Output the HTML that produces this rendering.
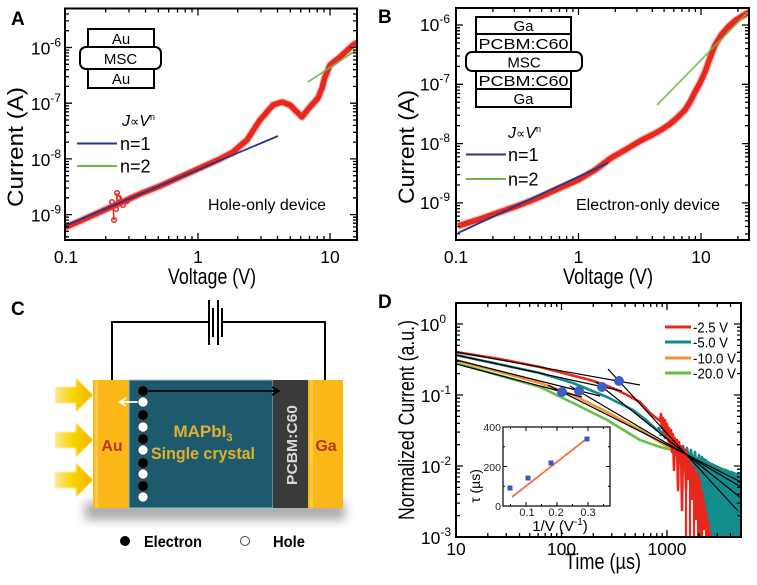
<!DOCTYPE html>
<html><head><meta charset="utf-8"><style>
html,body{margin:0;padding:0;background:#fff}
svg{display:block;font-family:"Liberation Sans",Arial,sans-serif}
</style></head><body>
<svg width="757" height="585" viewBox="0 0 757 585" xmlns="http://www.w3.org/2000/svg">
<defs>
<filter id="blur" x="-20%" y="-50%" width="140%" height="200%"><feGaussianBlur stdDeviation="5"/></filter>
<filter id="blur2" x="-50%" y="-50%" width="200%" height="200%"><feGaussianBlur stdDeviation="1.5"/></filter>
<filter id="blur3" x="-50%" y="-50%" width="200%" height="200%"><feGaussianBlur stdDeviation="0.8"/></filter>
<linearGradient id="arr" x1="0" x2="1" y1="0" y2="0"><stop offset="0" stop-color="#f6c400" stop-opacity="0.4"/><stop offset="0.45" stop-color="#f8d700"/><stop offset="1" stop-color="#f2b100"/></linearGradient>
<clipPath id="clipD"><rect x="456" y="303" width="285" height="234"/></clipPath>
<clipPath id="clipA"><rect x="65" y="8" width="292" height="232"/></clipPath>
<clipPath id="clipB"><rect x="456" y="8" width="293" height="232"/></clipPath>
</defs>

<!-- ============ PANEL A ============ -->
<text x="11" y="25" font-size="19" font-weight="bold">A</text>
<g clip-path="url(#clipA)">
<path d="M66,227 L80,221 L100,212 L120,203 L140,194 L160,186 L180,177 L200,168 L220,159 L233,152 L247,140 L260,120 L273,105 L282,102 L290,105 L302,117 L305,113 L310,107 L318,98 L322,88 L325,77 L330,65 L340,57 L353,45 L358,42" fill="none" stroke="#f08080" stroke-width="8" stroke-linejoin="round" stroke-linecap="round" opacity="0.5"/>
<path d="M66,227 L80,221 L100,212 L120,203 L140,194 L160,186 L180,177 L200,168 L220,159 L233,152 L247,140 L260,120 L273,105 L282,102 L290,105 L302,117 L305,113 L310,107 L318,98 L322,88 L325,77 L330,65 L340,57 L353,45 L358,42" fill="none" stroke="#e8281c" stroke-width="5.5" stroke-linejoin="round" stroke-linecap="round"/>
<path d="M113,205 L114,220 M117,205 L117,193 M121,204 L120,196" stroke="#e8281c" stroke-width="1.5" fill="none"/>
<g fill="none" stroke="#e8281c" stroke-width="1.5">
<circle cx="114" cy="220" r="2.3"/><circle cx="117" cy="193" r="2.3"/><circle cx="112" cy="202" r="2.3"/><circle cx="119" cy="198" r="2.3"/><circle cx="123" cy="205" r="2.3"/><circle cx="127" cy="201" r="2.3"/><circle cx="131" cy="198" r="2.3"/><circle cx="116" cy="209" r="2.3"/>
</g>
<path d="M60,228 L278,136" stroke="#27368c" stroke-width="1.8"/>
<path d="M308,82 L358,49" stroke="#6fb544" stroke-width="1.8" opacity="0.9"/>
</g>
<rect x="65" y="8.5" width="292" height="231.5" fill="none" stroke="#000" stroke-width="2"/>
<path stroke="#000" stroke-width="1.3" fill="none" d="
M198,240v-7M198,8.5v7M330,240v-7M330,8.5v7
M105.7,240v-4M105.7,8.5v4M129,240v-4M129,8.5v4M145.5,240v-4M145.5,8.5v4M158.3,240v-4M158.3,8.5v4M168.7,240v-4M168.7,8.5v4M177.5,240v-4M177.5,8.5v4M185.2,240v-4M185.2,8.5v4M192,240v-4M192,8.5v4
M237.7,240v-4M237.7,8.5v4M261,240v-4M261,8.5v4M277.5,240v-4M277.5,8.5v4M290.3,240v-4M290.3,8.5v4M300.7,240v-4M300.7,8.5v4M309.5,240v-4M309.5,8.5v4M317.2,240v-4M317.2,8.5v4M324,240v-4M324,8.5v4
M65,47.5h7M357,47.5h-7M65,103.2h7M357,103.2h-7M65,158.9h7M357,158.9h-7M65,214.6h7M357,214.6h-7
M65,236.8h4M357,236.8h-4M65,231.4h4M357,231.4h-4M65,227h4M357,227h-4M65,223.2h4M357,223.2h-4M65,220h4M357,220h-4M65,217.2h4M357,217.2h-4
M65,197.8h4M357,197.8h-4M65,188h4M357,188h-4M65,181.1h4M357,181.1h-4M65,175.7h4M357,175.7h-4M65,171.3h4M357,171.3h-4M65,167.5h4M357,167.5h-4M65,164.3h4M357,164.3h-4M65,161.5h4M357,161.5h-4
M65,142.1h4M357,142.1h-4M65,132.3h4M357,132.3h-4M65,125.4h4M357,125.4h-4M65,120h4M357,120h-4M65,115.6h4M357,115.6h-4M65,111.8h4M357,111.8h-4M65,108.6h4M357,108.6h-4M65,105.8h4M357,105.8h-4
M65,86.4h4M357,86.4h-4M65,76.6h4M357,76.6h-4M65,69.7h4M357,69.7h-4M65,64.3h4M357,64.3h-4M65,59.9h4M357,59.9h-4M65,56.1h4M357,56.1h-4M65,52.9h4M357,52.9h-4M65,50.1h4M357,50.1h-4
M65,30.7h4M357,30.7h-4M65,20.9h4M357,20.9h-4M65,14h4M357,14h-4"/>
<g stroke="#000" stroke-width="2" fill="#fff">
<rect x="88" y="29" width="66" height="18"/>
<rect x="88" y="69" width="66" height="19"/>
<rect x="80" y="47" width="81" height="22" rx="6"/>
</g>
<g font-size="15" text-anchor="middle">
<text x="121" y="44">Au</text><text x="120.5" y="64">MSC</text><text x="121" y="84">Au</text>
</g>
<text x="122" y="126" font-size="16"><tspan font-style="italic">J</tspan><tspan font-family="DejaVu Sans" font-size="13">∝</tspan><tspan font-style="italic">V</tspan><tspan dy="-6" font-size="9">n</tspan></text>
<path d="M77,143.5 H117" stroke="#27368c" stroke-width="2"/>
<path d="M77,166 H117" stroke="#6fb544" stroke-width="2"/>
<text x="120" y="150" font-size="18">n=1</text>
<text x="120" y="172.5" font-size="18">n=2</text>
<text x="208" y="210" font-size="15.5" textLength="118" lengthAdjust="spacingAndGlyphs">Hole-only device</text>
<g font-size="17.5" text-anchor="end">
<text x="61" y="54.5">10<tspan dy="-8" font-size="12">-6</tspan></text>
<text x="61" y="110">10<tspan dy="-8" font-size="12">-7</tspan></text>
<text x="61" y="166">10<tspan dy="-8" font-size="12">-8</tspan></text>
<text x="61" y="221.5">10<tspan dy="-8" font-size="12">-9</tspan></text>
</g>
<g font-size="17.5" text-anchor="middle">
<text x="66" y="263">0.1</text><text x="198" y="263">1</text><text x="330" y="263">10</text>
</g>
<text x="212" y="284" font-size="22" text-anchor="middle" textLength="88" lengthAdjust="spacingAndGlyphs">Voltage (V)</text>
<text transform="translate(23,147) rotate(-90)" font-size="22" text-anchor="middle" textLength="120" lengthAdjust="spacingAndGlyphs">Current (A)</text>

<!-- ============ PANEL B ============ -->
<text x="378" y="23" font-size="19" font-weight="bold">B</text>
<g clip-path="url(#clipB)">
<path d="M458,226 L480,219 L500,212 L520,205 L540,197 L560,188 L578,180 L595,170 L611,158 L625,150 L640,141 L652,135 L661,130 L670,124 L678,117 L685,110 L690,102 L695,92 L700,83 L705,72 L710,58 L715,45 L722,34 L728,27 L736,20 L749,12" fill="none" stroke="#f08080" stroke-width="8" stroke-linejoin="round" opacity="0.5"/>
<path d="M458,226 L480,219 L500,212 L520,205 L540,197 L560,188 L578,180 L595,170 L611,158 L625,150 L640,141 L652,135 L661,130 L670,124 L678,117 L685,110 L690,102 L695,92 L700,83 L705,72 L710,58 L715,45 L722,34 L728,27 L736,20 L749,12" fill="none" stroke="#e8281c" stroke-width="5.5" stroke-linejoin="round"/>
<path d="M458,233 L608,163" stroke="#27368c" stroke-width="1.8"/>
<path d="M657,105 L748,12" stroke="#6fb544" stroke-width="1.8" opacity="0.85"/>
</g>
<rect x="456" y="8" width="293" height="232" fill="none" stroke="#000" stroke-width="2"/>
<path stroke="#000" stroke-width="1.3" fill="none" d="
M578.5,240v-7M578.5,8v7M701,240v-7M701,8v7
M492.9,240v-4M492.9,8v4M514.4,240v-4M514.4,8v4M529.8,240v-4M529.8,8v4M541.6,240v-4M541.6,8v4M551.3,240v-4M551.3,8v4M559.5,240v-4M559.5,8v4M566.6,240v-4M566.6,8v4M572.9,240v-4M572.9,8v4
M615.4,240v-4M615.4,8v4M636.9,240v-4M636.9,8v4M652.3,240v-4M652.3,8v4M664.1,240v-4M664.1,8v4M673.8,240v-4M673.8,8v4M682,240v-4M682,8v4M689.1,240v-4M689.1,8v4M695.4,240v-4M695.4,8v4M737.9,240v-4M737.9,8v4
M456,202.9h7M749,202.9h-7M456,143.6h7M749,143.6h-7M456,84.3h7M749,84.3h-7M456,25h7M749,25h-7
M456,233.9h4M749,233.9h-4M456,226.5h4M749,226.5h-4M456,220.8h4M749,220.8h-4M456,216.1h4M749,216.1h-4M456,212.1h4M749,212.1h-4M456,208.7h4M749,208.7h-4M456,205.6h4M749,205.6h-4
M456,185h4M749,185h-4M456,174.6h4M749,174.6h-4M456,167.2h4M749,167.2h-4M456,161.5h4M749,161.5h-4M456,156.8h4M749,156.8h-4M456,152.8h4M749,152.8h-4M456,149.4h4M749,149.4h-4M456,146.3h4M749,146.3h-4
M456,125.7h4M749,125.7h-4M456,115.3h4M749,115.3h-4M456,107.9h4M749,107.9h-4M456,102.2h4M749,102.2h-4M456,97.5h4M749,97.5h-4M456,93.5h4M749,93.5h-4M456,90.1h4M749,90.1h-4M456,87h4M749,87h-4
M456,66.4h4M749,66.4h-4M456,56h4M749,56h-4M456,48.6h4M749,48.6h-4M456,42.9h4M749,42.9h-4M456,38.2h4M749,38.2h-4M456,34.2h4M749,34.2h-4M456,30.8h4M749,30.8h-4M456,27.7h4M749,27.7h-4"/>
<g stroke="#000" stroke-width="2" fill="#fff">
<rect x="476" y="17" width="95" height="17"/>
<rect x="476" y="34" width="95" height="18"/>
<rect x="476" y="71" width="95" height="18"/>
<rect x="476" y="89" width="95" height="18"/>
<rect x="466" y="52" width="116" height="19" rx="6"/>
</g>
<g font-size="15" text-anchor="middle">
<text x="523.5" y="31">Ga</text>
<text x="523.5" y="49" textLength="90" lengthAdjust="spacingAndGlyphs">PCBM:C60</text>
<text x="524" y="67.5">MSC</text>
<text x="523.5" y="86" textLength="90" lengthAdjust="spacingAndGlyphs">PCBM:C60</text>
<text x="523.5" y="104">Ga</text>
</g>
<text x="508" y="138" font-size="16"><tspan font-style="italic">J</tspan><tspan font-family="DejaVu Sans" font-size="13">∝</tspan><tspan font-style="italic">V</tspan><tspan dy="-6" font-size="9">n</tspan></text>
<path d="M466,154.5 H506" stroke="#27368c" stroke-width="2"/>
<path d="M466,179 H506" stroke="#6fb544" stroke-width="2"/>
<text x="508" y="161" font-size="18">n=1</text>
<text x="508" y="185.5" font-size="18">n=2</text>
<text x="576" y="210" font-size="15.5" textLength="144" lengthAdjust="spacingAndGlyphs">Electron-only device</text>
<g font-size="17.5" text-anchor="end">
<text x="450" y="31">10<tspan dy="-8" font-size="12">-6</tspan></text>
<text x="450" y="90.5">10<tspan dy="-8" font-size="12">-7</tspan></text>
<text x="450" y="150">10<tspan dy="-8" font-size="12">-8</tspan></text>
<text x="450" y="209">10<tspan dy="-8" font-size="12">-9</tspan></text>
</g>
<g font-size="17.5" text-anchor="middle">
<text x="456" y="263">0.1</text><text x="578.5" y="263">1</text><text x="701" y="263">10</text>
</g>
<text x="608" y="284" font-size="22" text-anchor="middle" textLength="90" lengthAdjust="spacingAndGlyphs">Voltage (V)</text>
<text transform="translate(414,147) rotate(-90)" font-size="22" text-anchor="middle" textLength="114" lengthAdjust="spacingAndGlyphs">Current (A)</text>

<!-- ============ PANEL C ============ -->
<text x="11" y="315" font-size="19" font-weight="bold">C</text>
<g stroke="#000" stroke-width="2" fill="none">
<path d="M112,381 V322 H209 M222,322 H325 V381"/>
<path d="M209,300 V345 M218,300 V345"/>
<path d="M213,308 V337 M222,308 V337"/>
</g>
<rect x="85" y="502" width="260" height="18" fill="#888" filter="url(#blur)" opacity="0.7"/>
<g filter="url(#blur3)">
<path d="M55,387 H76 V378 L93,395 L76,412 V403 H55 Z" fill="url(#arr)"/>
<path d="M55,432 H76 V423 L93,440 L76,457 V448 H55 Z" fill="url(#arr)"/>
<path d="M55,472 H76 V463 L93,480 L76,497 V488 H55 Z" fill="url(#arr)"/>
</g>
<rect x="93" y="380" width="36" height="128" fill="#fbb617"/>
<rect x="95" y="380" width="3" height="128" fill="#fcd062" opacity="0.7"/>
<rect x="129" y="380" width="144" height="128" fill="#1e5a6d" stroke="#9cc3cf" stroke-width="1"/>
<rect x="273" y="380" width="35" height="128" fill="#3a3a3a"/>
<rect x="308" y="380" width="35" height="128" fill="#fbb617"/>
<rect x="310" y="380" width="3" height="128" fill="#fcd062" opacity="0.7"/>
<text x="112" y="451" font-size="16" font-weight="bold" fill="#b4391e" text-anchor="middle">Au</text>
<text x="326" y="451" font-size="16" font-weight="bold" fill="#b4391e" text-anchor="middle">Ga</text>
<text transform="translate(297,445) rotate(-90)" font-size="14.5" font-weight="bold" fill="#d8d8d8" text-anchor="middle" textLength="80" lengthAdjust="spacingAndGlyphs">PCBM:C60</text>
<text x="203" y="437" font-size="17" font-weight="bold" fill="#e2b12c" text-anchor="middle">MAPbI<tspan dy="4" font-size="11">3</tspan></text>
<text x="203" y="459" font-size="17" font-weight="bold" fill="#e2b12c" text-anchor="middle" textLength="104" lengthAdjust="spacingAndGlyphs">Single crystal</text>
<path d="M143,391 H278" stroke="#cfe4ea" stroke-width="5" opacity="0.6" filter="url(#blur2)"/>
<path d="M143,391 H278 M272,387 L279,391 L272,395" stroke="#000" stroke-width="1.8" fill="none"/>
<path d="M142,402 H121 M126,398 L120,402 L126,406" stroke="#fff" stroke-width="1.8" fill="none"/>
<g stroke="#333" stroke-width="0.6">
<circle cx="143" cy="391" r="5" fill="#000"/>
<circle cx="143" cy="402" r="5" fill="#fff"/>
<circle cx="143" cy="415" r="5" fill="#000"/>
<circle cx="143" cy="427" r="5" fill="#fff"/>
<circle cx="143" cy="439" r="5" fill="#000"/>
<circle cx="143" cy="450" r="5" fill="#fff"/>
<circle cx="143" cy="463" r="5" fill="#000"/>
<circle cx="143" cy="474" r="5" fill="#fff"/>
<circle cx="143" cy="486" r="5" fill="#000"/>
<circle cx="143" cy="497" r="5" fill="#fff"/>
</g>
<circle cx="125" cy="541" r="5" fill="#000"/>
<text x="144" y="547" font-size="15.5" font-weight="bold" textLength="58" lengthAdjust="spacingAndGlyphs">Electron</text>
<circle cx="245" cy="541" r="4.5" fill="#fff" stroke="#444" stroke-width="1"/>
<text x="273" y="547" font-size="15.5" font-weight="bold" textLength="32" lengthAdjust="spacingAndGlyphs">Hole</text>

<!-- ============ PANEL D ============ -->
<text x="378" y="308" font-size="19" font-weight="bold">D</text>
<g clip-path="url(#clipD)" fill="none" stroke-linejoin="round">
<!-- green -->
<path stroke="#62c045" stroke-width="2.6" d="M456,363 L540,387 L573,403 L607,420 L640,440 L660,447 L680,452 L700,460 L720,468 L741,476"/>
<!-- orange -->
<path stroke="#f39134" stroke-width="2.6" d="M456,360 L540,383 L573,395 L607,412 L640,430 L673,450 L700,462 L741,480"/>
<!-- red lower spikes (behind teal) -->
<path stroke="#e8281c" stroke-width="2.2" d="M686,452 L686,537 M688,455 L688,480 M690,457 L690,537 M692,460 L692,500 M694,462 L694,537 M696,465 L696,520 M698,467 L698,537 M700,470 L700,537 M702,472 L702,537 M704,474 L704,530 M706,477 L706,537 M708,480 L708,537 M710,484 L710,537 M712,487 L712,537 M714,482 L714,537 M716,495 L716,537 M718,492 L718,537 M720,500 L720,537 M722,490 L722,537 M725,505 L725,537 M728,500 L728,537 M731,510 L731,537 M734,515 L734,537 M737,505 L737,537 M740,520 L740,537"/>
<!-- teal -->
<path stroke="#128c8c" stroke-width="2.6" d="M456,355 L540,373 L573,383 L607,397 L633,410 L645,419 L657,430 L659,428 L661,435 L663,431 L665,438 L667,433 L669,442 L671,437 L673,445 L675,440 L677,449 L679,443 L681,453 L683,446 L685,456 L687,448 L689,460 L691,450 L693,465 L695,452 L697,472 L699,455 L701,480 L702,457 L703,490 L704,459 L705,500 L706,460 L707,510 L708,462 L709,520 L710,463 L711,530 L712,464 L713,537 L714,465 L715,537 L716,466 L717,537 L718,467 L719,537 L720,468 L721,537 L722,469 L723,537 L724,470 L725,537 L726,470 L727,537 L728,471 L729,537 L730,472 L731,537 L732,472 L733,537 L734,473 L735,537 L736,474 L737,537 L738,474 L739,537 L740,475 L741,537"/>
<!-- red upper -->
<path stroke="#e8281c" stroke-width="2.6" d="M456,352 L500,359 L540,367 L590,380 L605,385 L617,390 L627,395 L640,402 L650,413 L660,421 L661,414 L662,428 L663,418 L664,432 L665,420 L666,436 L667,424 L668,440 L669,428 L670,446 L671,430 L672,452 L673,434 L674,470 L675,438 L676,455 L677,440 L678,490 L679,442 L680,462 L681,446 L682,510 L683,448 L684,470 L685,450 L686,490 L687,452 L688,470"/>
<!-- fits -->
<path stroke="#000" stroke-width="1.2" d="M456,352L640,385M608,369L738,511M456,355L622,391M596,382L741,498M456,360L600,396M570,386L741,487M456,364L582,397M548,385L741,482"/>
<g fill="#3d5fc9" stroke="none">
<circle cx="562" cy="392" r="5"/><circle cx="579" cy="391" r="5"/><circle cx="602" cy="387" r="5"/><circle cx="619" cy="381" r="5"/>
</g>
</g>
<rect x="456" y="303" width="285" height="234" fill="none" stroke="#000" stroke-width="2"/>
<path stroke="#000" stroke-width="1.3" fill="none" d="
M561.5,537v-7M561.5,303v7M667,537v-7M667,303v7
M487.8,537v-4M487.8,303v4M506.3,537v-4M506.3,303v4M519.5,537v-4M519.5,303v4M529.7,537v-4M529.7,303v4M538.1,537v-4M538.1,303v4M545.2,537v-4M545.2,303v4M551.3,537v-4M551.3,303v4M556.7,537v-4M556.7,303v4
M593.3,537v-4M593.3,303v4M611.8,537v-4M611.8,303v4M625,537v-4M625,303v4M635.2,537v-4M635.2,303v4M643.6,537v-4M643.6,303v4M650.7,537v-4M650.7,303v4M656.8,537v-4M656.8,303v4M662.2,537v-4M662.2,303v4
M698.8,537v-4M698.8,303v4M717.3,537v-4M717.3,303v4M730.5,537v-4M730.5,303v4
M456,466h7M741,466h-7M456,395h7M741,395h-7M456,324h7M741,324h-7
M456,515.6h4M741,515.6h-4M456,503.1h4M741,503.1h-4M456,494.3h4M741,494.3h-4M456,487.4h4M741,487.4h-4M456,481.8h4M741,481.8h-4M456,477h4M741,477h-4M456,472.9h4M741,472.9h-4M456,469.2h4M741,469.2h-4
M456,444.6h4M741,444.6h-4M456,432.1h4M741,432.1h-4M456,423.3h4M741,423.3h-4M456,416.4h4M741,416.4h-4M456,410.8h4M741,410.8h-4M456,406h4M741,406h-4M456,401.9h4M741,401.9h-4M456,398.2h4M741,398.2h-4
M456,373.6h4M741,373.6h-4M456,361.1h4M741,361.1h-4M456,352.3h4M741,352.3h-4M456,345.4h4M741,345.4h-4M456,339.8h4M741,339.8h-4M456,335h4M741,335h-4M456,330.9h4M741,330.9h-4M456,327.2h4M741,327.2h-4"/>
<!-- legend -->
<path d="M665,327 H691" stroke="#e8281c" stroke-width="3"/>
<path d="M665,342 H691" stroke="#128c8c" stroke-width="3"/>
<path d="M665,358 H691" stroke="#f39134" stroke-width="3"/>
<path d="M665,373 H691" stroke="#62c045" stroke-width="3"/>
<g font-size="15">
<text x="693" y="332.5" textLength="35" lengthAdjust="spacingAndGlyphs">-2.5 V</text>
<text x="693" y="347.5" textLength="35" lengthAdjust="spacingAndGlyphs">-5.0 V</text>
<text x="693" y="363.5" textLength="43" lengthAdjust="spacingAndGlyphs">-10.0 V</text>
<text x="693" y="378.5" textLength="43" lengthAdjust="spacingAndGlyphs">-20.0 V</text>
</g>
<!-- inset -->
<rect x="503" y="427" width="107" height="79" fill="#fff" stroke="#000" stroke-width="1.2"/>
<path stroke="#000" stroke-width="1" fill="none" d="M526,506v-4M526,427v4M557,506v-4M557,427v4M588,506v-4M588,427v4M510.5,506v-2M510.5,427v2M541.5,506v-2M541.5,427v2M572.5,506v-2M572.5,427v2M603.5,506v-2M603.5,427v2M503,506h4M610,506h-4M503,466.5h4M610,466.5h-4M503,427h4M610,427h-4M503,486.3h2M610,486.3h-2M503,446.8h2M610,446.8h-2"/>
<path d="M512,497 L585,440" stroke="#f07448" stroke-width="1.8"/>
<g fill="#3c58b4">
<rect x="507.5" y="485.5" width="5" height="5"/>
<rect x="525.5" y="475.5" width="5" height="5"/>
<rect x="548.5" y="460.5" width="5" height="5"/>
<rect x="584.5" y="436.5" width="5" height="5"/>
</g>
<g font-size="10.5" text-anchor="end" fill="#222">
<text x="501" y="431">400</text>
<text x="501" y="471">200</text>
<text x="501" y="510">0</text>
</g>
<g font-size="11" text-anchor="middle" fill="#222">
<text x="527" y="516">0.1</text><text x="556" y="516">0.2</text><text x="588" y="516">0.3</text>
</g>
<text x="560" y="531" font-size="15" text-anchor="middle">1/V (V<tspan dy="-6" font-size="10">-1</tspan><tspan dy="6">)</tspan></text>
<text transform="translate(480,486) rotate(-90)" font-size="14" text-anchor="middle">τ (µs)</text>
<g font-size="17.5" text-anchor="end">
<text x="446" y="331">10<tspan dy="-8" font-size="12">0</tspan></text>
<text x="451" y="402">10<tspan dy="-8" font-size="12">-1</tspan></text>
<text x="451" y="473">10<tspan dy="-8" font-size="12">-2</tspan></text>
<text x="451" y="544">10<tspan dy="-8" font-size="12">-3</tspan></text>
</g>
<g font-size="17.5" text-anchor="middle">
<text x="456" y="555">10</text><text x="561.5" y="555">100</text><text x="667" y="555">1000</text>
</g>
<text x="603" y="569" font-size="22" text-anchor="middle" textLength="76" lengthAdjust="spacingAndGlyphs">Time (µs)</text>
<text transform="translate(414,420) rotate(-90)" font-size="22" text-anchor="middle" textLength="200" lengthAdjust="spacingAndGlyphs">Normalized Current (a.u.)</text>
</svg>
</body></html>
